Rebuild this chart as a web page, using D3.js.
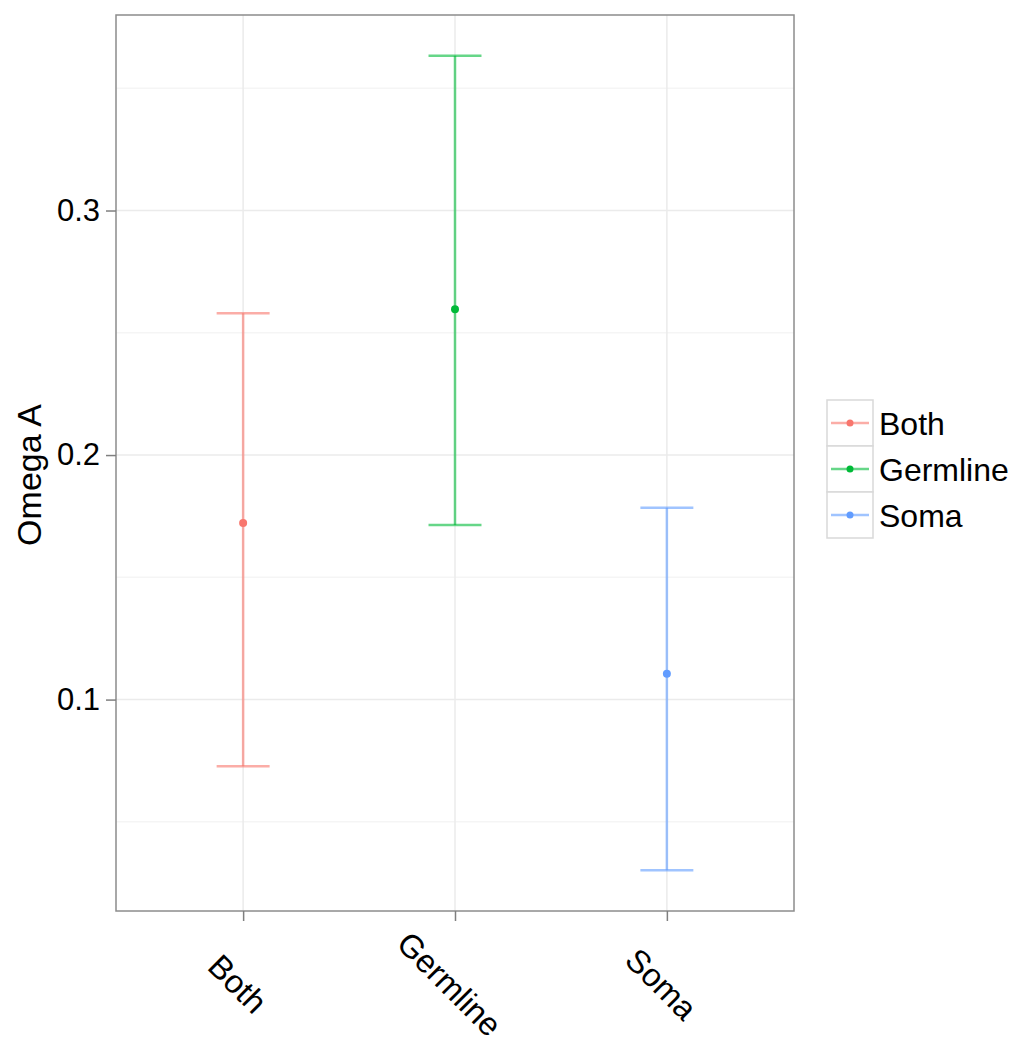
<!DOCTYPE html>
<html>
<head>
<meta charset="utf-8">
<script src="https://cdn.jsdelivr.net/npm/d3@7"></script>
<style>
  body { margin: 0; background: #fff; }
  text { font-family: 'Liberation Sans', Arial, sans-serif; fill: #000; }
</style>
</head>
<body>
<div id="chart"></div>
<script>
const categories = ['Both', 'Germline', 'Soma']
const means = [0.1722, 0.2596, 0.1106]
const lowers = [0.0727, 0.1714, 0.0302]
const uppers = [0.2580, 0.3633, 0.1784]
const yTicks = [0.1, 0.2, 0.3]
const yMinorTicks = [0.05, 0.15, 0.25, 0.35]
const colors = ['#F8766D', '#00BA38', '#619CFF']

const width = 1012
const height = 1053
const panel = { left: 116, right: 794, top: 15, bottom: 911 }

const data = categories.map((c, i) => ({ cat: c, mean: means[i], lo: lowers[i], hi: uppers[i], color: colors[i] }))

const svg = d3.select('#chart')
  .append('svg')
  .attr('width', width)
  .attr('height', height)

const x = d3.scalePoint()
  .domain(categories)
  .range([panel.left, panel.right])
  .padding(0.6)

const lo = d3.min(lowers)
const hi = d3.max(uppers)
const pad = (hi - lo) * 0.05
const y = d3.scaleLinear()
  .domain([lo - pad, hi + pad])
  .range([panel.bottom, panel.top])

// panel background + grid
svg.append('rect')
  .attr('x', panel.left)
  .attr('y', panel.top)
  .attr('width', panel.right - panel.left)
  .attr('height', panel.bottom - panel.top)
  .attr('fill', '#fff')

svg.append('g')
  .selectAll('line')
  .data(yMinorTicks)
  .join('line')
  .attr('x1', panel.left)
  .attr('x2', panel.right)
  .attr('y1', d => y(d))
  .attr('y2', d => y(d))
  .attr('stroke', '#f5f5f5')
  .attr('stroke-width', 1.5)

svg.append('g')
  .selectAll('line')
  .data(yTicks)
  .join('line')
  .attr('x1', panel.left)
  .attr('x2', panel.right)
  .attr('y1', d => y(d))
  .attr('y2', d => y(d))
  .attr('stroke', '#ebebeb')
  .attr('stroke-width', 1.5)

svg.append('g')
  .selectAll('line')
  .data(categories)
  .join('line')
  .attr('x1', d => x(d))
  .attr('x2', d => x(d))
  .attr('y1', panel.top)
  .attr('y2', panel.bottom)
  .attr('stroke', '#ebebeb')
  .attr('stroke-width', 1.5)

// error bars
const capHalf = x.step() * 0.125
const bars = svg.append('g')
  .selectAll('g')
  .data(data)
  .join('g')
  .attr('stroke', d => d.color)
  .attr('stroke-opacity', 0.6)
  .attr('stroke-width', 2.5)

bars.append('line')
  .attr('x1', d => x(d.cat))
  .attr('x2', d => x(d.cat))
  .attr('y1', d => y(d.lo))
  .attr('y2', d => y(d.hi))

bars.append('line')
  .attr('x1', d => x(d.cat) - capHalf)
  .attr('x2', d => x(d.cat) + capHalf)
  .attr('y1', d => y(d.hi))
  .attr('y2', d => y(d.hi))

bars.append('line')
  .attr('x1', d => x(d.cat) - capHalf)
  .attr('x2', d => x(d.cat) + capHalf)
  .attr('y1', d => y(d.lo))
  .attr('y2', d => y(d.lo))

svg.append('g')
  .selectAll('circle')
  .data(data)
  .join('circle')
  .attr('cx', d => x(d.cat))
  .attr('cy', d => y(d.mean))
  .attr('r', 4)
  .attr('fill', d => d.color)

// panel border
svg.append('rect')
  .attr('x', panel.left)
  .attr('y', panel.top)
  .attr('width', panel.right - panel.left)
  .attr('height', panel.bottom - panel.top)
  .attr('fill', 'none')
  .attr('stroke', '#8c8c8c')
  .attr('stroke-width', 1.5)

// axes
const yAxis = svg.append('g')
  .attr('transform', `translate(${panel.left},0)`)
  .call(d3.axisLeft(y).tickValues(yTicks).tickSize(10).tickPadding(6).tickFormat(d3.format('.1f')))
yAxis.select('.domain').remove()
yAxis.selectAll('line').attr('stroke', '#7f7f7f').attr('stroke-width', 1.5)
yAxis.selectAll('text')
  .attr('font-size', 31)
  .attr('fill', '#1a1a1a')

const xAxis = svg.append('g')
  .attr('transform', `translate(0,${panel.bottom})`)
  .call(d3.axisBottom(x).tickSize(10))
xAxis.select('.domain').remove()
xAxis.selectAll('line').attr('stroke', '#7f7f7f').attr('stroke-width', 1.5)
xAxis.selectAll('text')
  .attr('font-size', 32.5)
  .attr('fill', '#1a1a1a')
  .attr('text-anchor', 'middle')
  .attr('dy', null)
  .attr('y', null)
  .attr('transform', d => `translate(-14,${992 - panel.bottom}) rotate(45)`)

// y title
svg.append('text')
  .attr('transform', `translate(41,${(panel.top + panel.bottom) / 2 + 12}) rotate(-90)`)
  .attr('text-anchor', 'middle')
  .attr('font-size', 34)
  .text('Omega A')

// legend
const keySize = 46
const legend = svg.append('g')
  .attr('transform', `translate(827,${469 - keySize * categories.length / 2})`)

data.forEach((d, i) => {
  const g = legend.append('g')
    .attr('transform', `translate(0,${i * keySize})`)

  g.append('rect')
    .attr('width', keySize)
    .attr('height', keySize)
    .attr('fill', '#fff')
    .attr('stroke', '#d9d9d9')
    .attr('stroke-width', 1.5)

  g.append('line')
    .attr('x1', 4)
    .attr('x2', keySize - 4)
    .attr('y1', keySize / 2)
    .attr('y2', keySize / 2)
    .attr('stroke', d.color)
    .attr('stroke-opacity', 0.6)
    .attr('stroke-width', 2.5)

  g.append('circle')
    .attr('cx', keySize / 2)
    .attr('cy', keySize / 2)
    .attr('r', 3.5)
    .attr('fill', d.color)

  g.append('text')
    .attr('x', keySize + 6)
    .attr('y', keySize / 2)
    .attr('dy', '0.36em')
    .attr('font-size', 32)
    .text(d.cat)
})
</script>
</body>
</html>
